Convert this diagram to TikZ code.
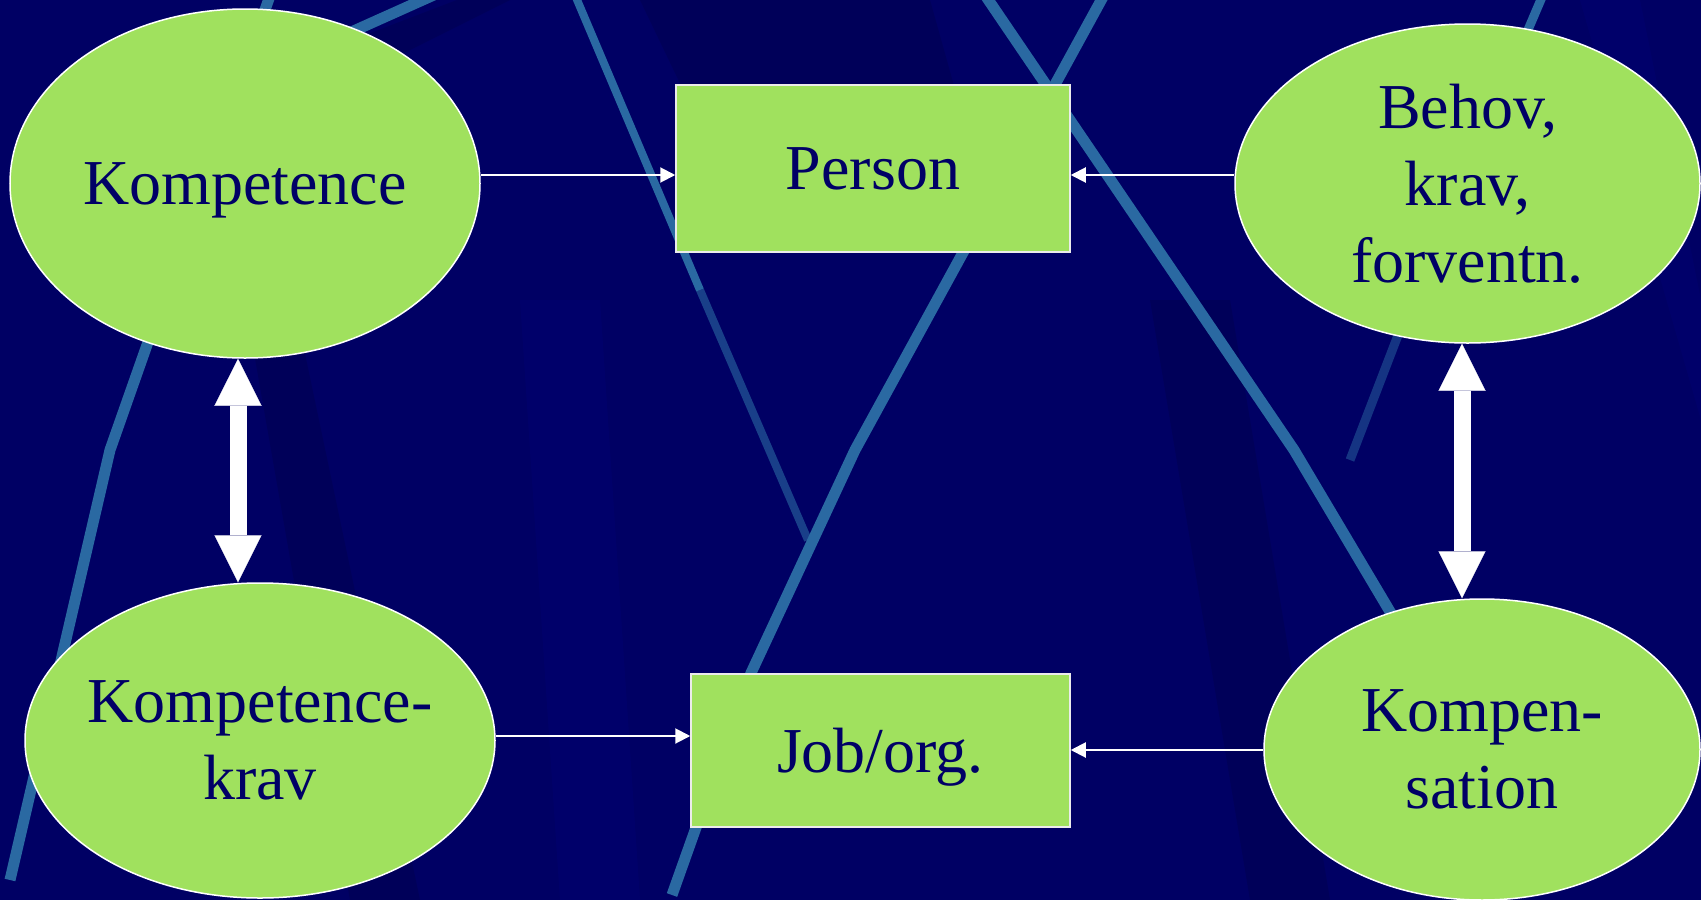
\documentclass[tikz,border=0pt]{standalone}
\usepackage{fontspec}
\setmainfont{Liberation Serif}
\usetikzlibrary{arrows.meta,shapes.geometric}
\definecolor{bgnavy}{HTML}{000064}
\definecolor{bgdark}{HTML}{00004C}
\definecolor{bglight}{HTML}{000078}
\definecolor{streak}{HTML}{2A69A2}
\definecolor{leaf}{HTML}{A0E15E}
\definecolor{ink}{HTML}{000066}
\begin{document}
\begin{tikzpicture}[x=1pt,y=-1pt,
  oval/.style={ellipse, draw=white, line width=1.5pt, fill=leaf, text=ink,
    inner sep=-60pt, align=center, font=\fontsize{64}{77}\selectfont, text depth=0pt},
  box/.style={rectangle, draw=white!92!black, line width=1.5pt, fill=leaf, text=ink,
    inner sep=0pt, align=center, font=\fontsize{64}{77}\selectfont, text depth=0pt},
  thinarrow/.style={draw=white, line width=2pt, -{Triangle[length=15pt,width=15pt]}},
  bigarrow/.style={draw=white, line width=17pt,
    {Triangle[length=47pt,width=47pt,line width=0.1pt]}-{Triangle[length=47pt,width=47pt,line width=0.1pt]}},
  streakline/.style={draw=streak, line width=11pt, line join=round},
  band/.style={fill=bgdark, opacity=0.45}]
\useasboundingbox (0,0) rectangle (1701,900);
\clip (0,0) rectangle (1701,900);
% background
\fill[bgnavy] (0,0) rectangle (1701,900);
\fill[band] (640,0) -- (930,0) -- (1000,250) -- (760,250) -- cycle;
\fill[band] (300,60) -- (470,-5) -- (520,-5) -- (330,90) -- cycle;
\fill[band] (250,330) -- (300,330) -- (420,900) -- (350,900) -- cycle;
\fill[band] (1150,300) -- (1230,300) -- (1330,900) -- (1250,900) -- cycle;
\fill[bglight, opacity=0.35] (520,300) -- (600,300) -- (640,900) -- (560,900) -- cycle;
\fill[bglight, opacity=0.35] (1580,0) -- (1640,0) -- (1701,300) -- (1701,420) -- cycle;
% streaks
\draw[streakline] (272,-10) -- (110,450) -- (10,880);
\draw[streakline] (300,55) -- (445,-10);
\draw[streakline, line width=8pt] (575,-5) -- (700,290);
\draw[streakline, line width=8pt, opacity=0.6] (700,290) -- (808,540);
\draw[streakline] (985,-5) -- (1294,450) -- (1395,620);
\draw[streakline] (1104,-5) -- (855,450) -- (751,673) -- (672,895);
\draw[streakline, line width=9pt] (1545,-10) -- (1400,330);
\draw[streakline, line width=9pt, opacity=0.5] (1400,330) -- (1350,460);
% nodes
\node[oval, minimum width=470pt, minimum height=349pt] (komp) at (245,183.5) {Kompetence};
\node[box, minimum width=394pt, minimum height=167pt] (person) at (873,168.5) {Person};
\node[oval, minimum width=465pt, minimum height=319pt] (behov) at (1467.5,183.5) {Behov,\\krav,\\forventn.};
\node[oval, minimum width=470pt, minimum height=315pt] (kkrav) at (260,740.5) {Kompetence-\\krav};
\node[box, minimum width=379pt, minimum height=153pt] (job) at (880.5,750.5) {Job/org.};
\node[oval, minimum width=436pt, minimum height=301pt] (kompen) at (1482,749.5) {Kompen-\\sation};
% connector helpers
\coordinate (ya) at (0,175);
\coordinate (yb) at (0,736);
\coordinate (yc) at (0,750);
\coordinate (xl) at (238,0);
\coordinate (xr) at (1462,0);
% connectors
\draw[thinarrow] (komp.east |- ya) -- (person.west |- ya);
\draw[thinarrow] (behov.west |- ya) -- (person.east |- ya);
\draw[thinarrow] (kkrav.east |- yb) -- (job.west |- yb);
\draw[thinarrow] (kompen.west |- yc) -- (job.east |- yc);
\draw[bigarrow] (komp.south -| xl) -- (kkrav.north -| xl);
\draw[bigarrow] (behov.south -| xr) -- (kompen.north -| xr);
\end{tikzpicture}
\end{document}
